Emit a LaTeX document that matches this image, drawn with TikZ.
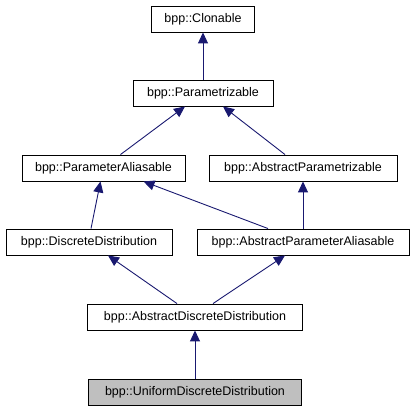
\documentclass[tikz,border=0pt]{standalone}
\usepackage{fontspec}
\setmainfont{Liberation Sans}
\usetikzlibrary{arrows.meta}
\definecolor{edgeblue}{HTML}{191970}
\definecolor{leafgray}{HTML}{BFBFBF}
\tikzset{
  cls/.style={draw, line width=0.9pt, minimum height=26pt, inner sep=2pt,
    font=\fontsize{12.5}{15}\selectfont},
  inherit/.style={draw=edgeblue, line width=0.9pt,
    -{Triangle[length=11pt,width=10pt,fill=edgeblue]}}
}
\begin{document}
\begin{tikzpicture}[x=1pt,y=-1pt]
  \useasboundingbox (0,0) rectangle (415,411);
  %% classes, top to bottom
  \node[cls, minimum width=103pt] (clo) at (203,19) {bpp::Clonable};
  \node[cls, minimum width=140pt] (par) at (203,93) {bpp::Parametrizable};
  \node[cls, minimum width=163pt] (pa) at (103.5,168) {bpp::ParameterAliasable};
  \node[cls, minimum width=188pt] (apz) at (303,168) {bpp::AbstractParametrizable};
  \node[cls, minimum width=166pt] (dd) at (89,242) {bpp::DiscreteDistribution};
  \node[cls, minimum width=212pt] (apa) at (303,242) {bpp::AbstractParameterAliasable};
  \node[cls, minimum width=215pt] (adist) at (195,317) {bpp::AbstractDiscreteDistribution};
  \node[cls, minimum width=213pt, fill=leafgray] (udd) at (195,392) {bpp::UniformDiscreteDistribution};
  %% inheritance
  \draw[inherit] (par.north) -- (clo.south);
  \draw[inherit] ([xshift=17pt]pa.north) -- ([xshift=-18pt]par.south);
  \draw[inherit] ([xshift=-18pt]apz.north) -- ([xshift=20pt]par.south);
  \draw[inherit] ([xshift=2pt]dd.north) -- ([xshift=-3pt]pa.south);
  \draw[inherit] ([xshift=-35pt]apa.north) -- ([xshift=40pt]pa.south);
  \draw[inherit] (apa.north) -- (apz.south);
  \draw[inherit] ([xshift=-18pt]adist.north) -- ([xshift=19pt]dd.south);
  \draw[inherit] ([xshift=18pt]adist.north) -- ([xshift=-18pt]apa.south);
  \draw[inherit] (udd.north) -- (adist.south);
\end{tikzpicture}
\end{document}
